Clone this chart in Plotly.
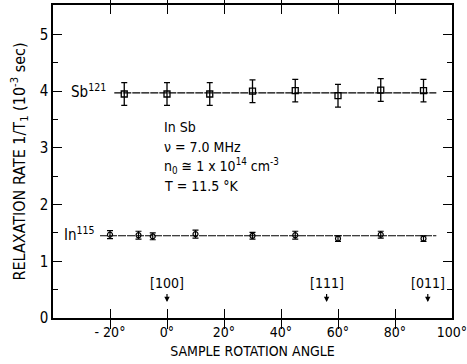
import plotly.graph_objects as go

# Sb121 relaxation rate vs. sample rotation angle
sb_angle = [-15, 0, 15, 30, 45, 60, 75, 90]
sb_rate = [3.95, 3.95, 3.95, 4.00, 4.01, 3.92, 4.02, 4.01]
sb_err = [0.20, 0.20, 0.20, 0.20, 0.20, 0.20, 0.20, 0.20]

# In115 relaxation rate vs. sample rotation angle
in_angle = [-20, -10, -5, 10, 30, 45, 60, 75, 90]
in_rate = [1.47, 1.46, 1.44, 1.48, 1.45, 1.46, 1.40, 1.47, 1.40]
in_err = [0.07, 0.07, 0.06, 0.07, 0.06, 0.07, 0.05, 0.06, 0.05]

# Mean-level guide lines
sb_fit_x = [-18.5, 94.5]
sb_fit_y = [3.97, 3.97]
in_fit_x = [-23.5, 94.5]
in_fit_y = [1.45, 1.45]

# Crystal directions marked on the angle axis
dir_labels = ["[100]", "[111]", "[011]"]
dir_angles = [0, 56, 91.5]

x_ticks = [-20, 0, 20, 40, 60, 80, 100]
x_tick_text = ["- 20°", "0°", "20°", "40°", "60°", "80°", "100°"]
y_ticks = [0, 1, 2, 3, 4, 5]
y_minor = [0.5, 1.5, 2.5, 3.5, 4.5]
y_range = [0, 5.52]

FONT = "DejaVu Sans Condensed, Liberation Sans Narrow, sans-serif"

fig = go.Figure()

fig.add_trace(go.Scatter(x=sb_fit_x, y=sb_fit_y, mode="lines",
                         line=dict(color="black", width=1.1, dash="8px,1px"),
                         hoverinfo="skip"))
fig.add_trace(go.Scatter(x=in_fit_x, y=in_fit_y, mode="lines",
                         line=dict(color="black", width=1.1, dash="8px,1px"),
                         hoverinfo="skip"))

fig.add_trace(go.Scatter(
    x=sb_angle, y=sb_rate, mode="markers",
    marker=dict(symbol="square-open", size=6, color="black", line=dict(width=1.3)),
    error_y=dict(type="data", array=sb_err, color="black", thickness=1.3, width=3),
))
fig.add_trace(go.Scatter(
    x=in_angle, y=in_rate, mode="markers",
    marker=dict(symbol="circle-open", size=5, color="black", line=dict(width=1.2)),
    error_y=dict(type="data", array=in_err, color="black", thickness=1.2, width=3),
))

# invisible trace on the right-hand axis so its ticks get drawn
fig.add_trace(go.Scatter(x=[None], y=[None], yaxis="y2", showlegend=False,
                         hoverinfo="skip"))

annotations = []
for lab, ang in zip(dir_labels, dir_angles):
    annotations.append(dict(x=ang, y=0.62, text=lab, showarrow=False,
                            font=dict(size=14, family=FONT, color="black")))
    annotations.append(dict(x=ang, y=0.28, ax=ang, ay=0.45, axref="x", ayref="y",
                            text="", showarrow=True, arrowhead=2, arrowsize=0.9,
                            arrowwidth=1.2, arrowcolor="black", standoff=0))

annotations += [
    dict(x=-20.6, y=4.0, text="Sb<sup>121</sup>", xanchor="right", showarrow=False,
         font=dict(size=15, family=FONT, color="black")),
    dict(x=-24.5, y=1.48, text="In<sup>115</sup>", xanchor="right", showarrow=False,
         font=dict(size=15, family=FONT, color="black")),
    dict(x=-1.6, y=3.37, text="In Sb", xanchor="left", showarrow=False,
         font=dict(size=14, family=FONT, color="black")),
    dict(x=-1.6, y=3.02, text="ν = 7.0 MHz", xanchor="left", showarrow=False,
         font=dict(size=14, family=FONT, color="black")),
    dict(x=-1.6, y=2.68, text="n<sub>0</sub> ≅ 1 x 10<sup>14</sup> cm<sup>-3</sup>",
         xanchor="left", showarrow=False,
         font=dict(size=14, family=FONT, color="black")),
    dict(x=-1.6, y=2.32, text="T = 11.5 °K", xanchor="left", showarrow=False,
         font=dict(size=14, family=FONT, color="black")),
]

fig.update_layout(
    width=467, height=364,
    margin=dict(l=53, r=15, t=5, b=46, autoexpand=False),
    paper_bgcolor="white", plot_bgcolor="white",
    showlegend=False,
    font=dict(family=FONT, size=14, color="black"),
    annotations=annotations,
    xaxis=dict(
        range=[-40, 100], tickvals=x_ticks, ticktext=x_tick_text,
        ticklabeloverflow="allow", automargin=False,
        ticks="inside", ticklen=9, tickwidth=1.2, tickcolor="black",
        showline=True, linecolor="black", linewidth=1.5, mirror="allticks",
        showgrid=False, zeroline=False,
        title=dict(text="SAMPLE ROTATION ANGLE", font=dict(size=14, family=FONT),
                   standoff=8),
        tickfont=dict(size=14, family=FONT),
    ),
    yaxis=dict(
        range=y_range, tickvals=y_ticks, automargin=False,
        ticks="inside", ticklen=9, tickwidth=1.2, tickcolor="black",
        minor=dict(tickvals=y_minor, ticks="inside", ticklen=5,
                   tickwidth=1, tickcolor="black"),
        showline=True, linecolor="black", linewidth=1.5, mirror=True,
        showgrid=False, zeroline=False,
        title=dict(text="RELAXATION RATE 1/T<sub>1</sub> (10<sup>-3</sup> sec)",
                   font=dict(size=16, family=FONT), standoff=10),
        tickfont=dict(size=15, family=FONT),
    ),
    yaxis2=dict(
        overlaying="y", side="right", range=y_range, tickvals=y_ticks,
        automargin=False,
        showticklabels=False, ticks="inside", ticklen=9, tickwidth=1.2,
        tickcolor="black",
        minor=dict(tickvals=y_minor, ticks="inside", ticklen=5, tickwidth=1,
                   tickcolor="black"),
        showline=False, showgrid=False, zeroline=False,
    ),
)

fig.write_html("out.html")
